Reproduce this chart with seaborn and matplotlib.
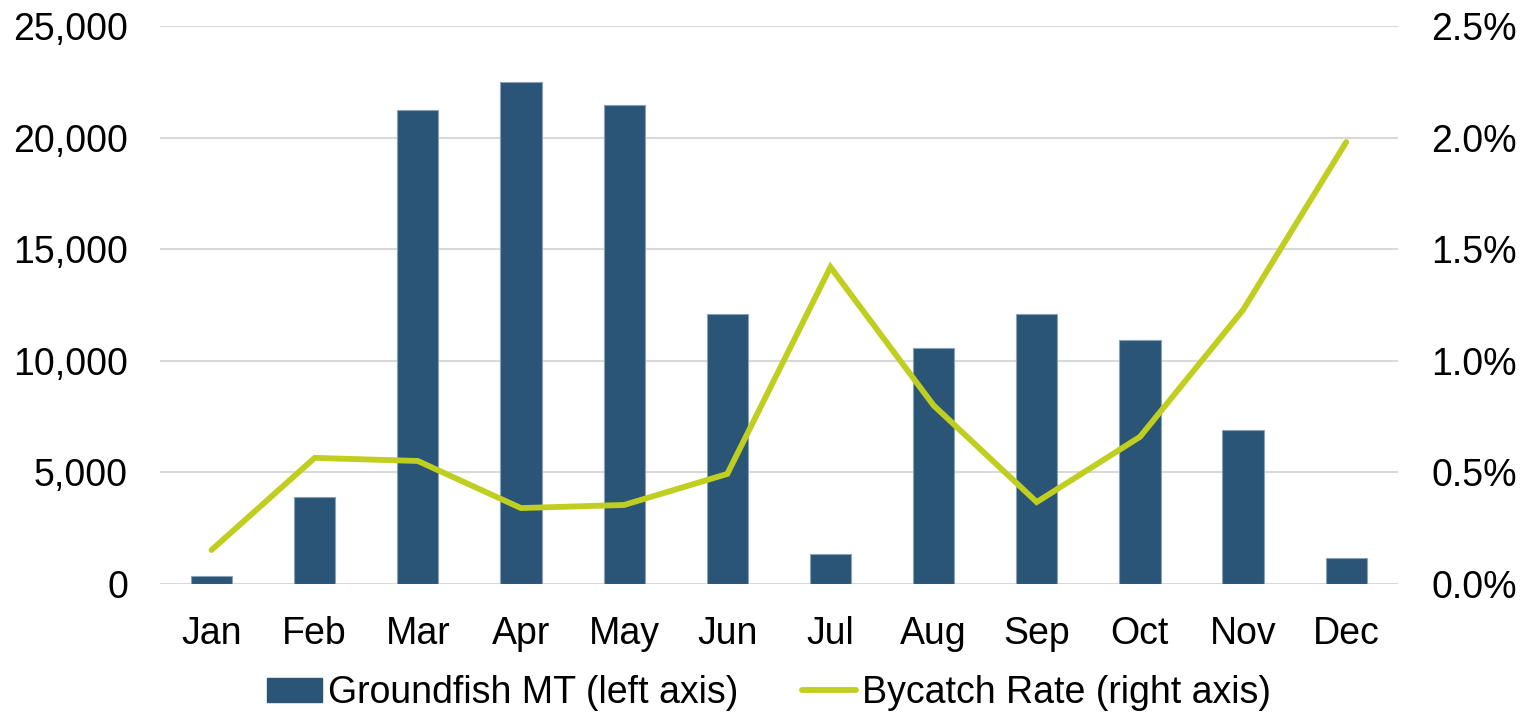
import numpy as np
import pandas as pd
import matplotlib
matplotlib.use("Agg")
import matplotlib.pyplot as plt
from matplotlib.ticker import FuncFormatter, PercentFormatter
from matplotlib.patches import Patch
from matplotlib.lines import Line2D
import seaborn as sns

months = ["Jan", "Feb", "Mar", "Apr", "May", "Jun",
          "Jul", "Aug", "Sep", "Oct", "Nov", "Dec"]
groundfish_mt = [360, 3900, 21240, 22490, 21460, 12100,
                 1340, 10570, 12100, 10930, 6900, 1160]
bycatch_rate = [0.152, 0.565, 0.551, 0.340, 0.354, 0.493,
                1.420, 0.800, 0.367, 0.659, 1.228, 1.980]  # percent

bar_color = "#2A5577"
line_color = "#BFCE1F"
grid_color = "#D9D9D9"
FS = 27

sns.set_theme(style="white")
plt.rcParams["font.family"] = ["Liberation Sans", "DejaVu Sans"]

fig = plt.figure(figsize=(15.26, 7.13), dpi=100)
ax = fig.add_axes([0.1048, 0.181, 0.8112, 0.7825])

df = pd.DataFrame({"month": months, "mt": groundfish_mt})
sns.barplot(data=df, x="month", y="mt", order=months, color=bar_color,
            saturation=1, width=0.4, edgecolor="#8AA2B6", linewidth=0.8,
            ax=ax, zorder=2)

ax.set_ylim(0, 25000)
ax.set_xlim(-0.5, 11.5)
ax.set_yticks(np.arange(0, 25001, 5000))
ax.yaxis.set_major_formatter(FuncFormatter(lambda v, p: f"{int(v):,}"))
ax.yaxis.grid(True, color=grid_color, linewidth=1.5)
ax.set_axisbelow(True)
ax.set_xlabel("")
ax.set_ylabel("")
for s in ax.spines.values():
    s.set_visible(False)
ax.tick_params(axis="y", length=0, pad=23, labelsize=FS, colors="black")
ax.tick_params(axis="x", length=0, pad=23, labelsize=FS, colors="black")

ax2 = ax.twinx()
sns.lineplot(x=np.arange(len(months)), y=np.array(bycatch_rate) / 100,
             color=line_color, linewidth=4.2, ax=ax2, zorder=3,
             solid_capstyle="round", solid_joinstyle="miter")
ax2.set_ylim(0, 0.025)
ax2.set_yticks(np.arange(0, 0.0251, 0.005))
ax2.yaxis.set_major_formatter(PercentFormatter(xmax=1, decimals=1))
ax2.set_ylabel("")
for s in ax2.spines.values():
    s.set_visible(False)
ax2.tick_params(axis="y", length=0, pad=24, labelsize=FS, colors="black")
ax2.grid(False)

handles = [
    Patch(facecolor=bar_color, edgecolor=bar_color),
    Line2D([0], [0], color=line_color, linewidth=4.2),
]
labels = ["Groundfish MT (left axis)", "Bycatch Rate (right axis)"]
fig.legend(handles, labels, loc="center", bbox_to_anchor=(0.504, 0.028),
           ncol=2, frameon=False, fontsize=FS, labelcolor="black",
           handlelength=1.45, handleheight=0.6, handletextpad=0.16,
           columnspacing=1.7, borderpad=0)

fig.savefig("out.png", dpi=100)
